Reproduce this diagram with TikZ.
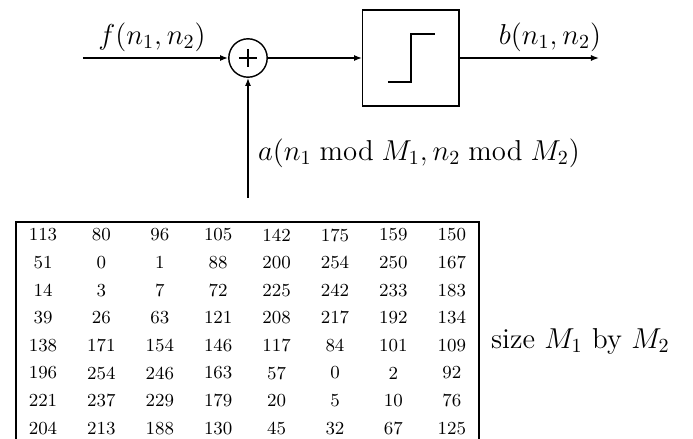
\documentclass[tikz,border=0pt]{standalone}
\usetikzlibrary{arrows.meta}
\begin{document}
\begin{tikzpicture}[x=0.5pt,y=-0.5pt,
  seta/.style={-{Latex[length=4pt,width=3pt]},line width=0.7pt},
  linha/.style={line width=0.7pt},
  rotulo/.style={font=\Large},
  celula/.style={font=\fontsize{9.2}{11}\selectfont,inner sep=0pt}]

\useasboundingbox (0,0) rectangle (693,439);

% Somador e quantizador
\node[draw,linha,circle,minimum size=19.2pt,inner sep=0pt] (soma) at (248,58) {};
\draw[linha] (soma.center) ++(-9,0) -- ++(18,0);
\draw[linha] (soma.center) ++(0,-9) -- ++(0,18);

\node[draw,linha,minimum size=48.2pt,inner sep=0pt] (quant) at (411,58) {};
\draw[linha] (quant.center) ++(-23,24) -- ++(23,0) -- ++(0,-48) -- ++(24,0);

% Entradas e saida
\coordinate (entrada) at (83,58);
\coordinate (saida) at (599,58);
\coordinate (baixo) at (248,198);

\draw[seta] (entrada) -- (soma);
\draw[seta] (soma) -- (quant);
\draw[seta] (quant) -- (saida);
\draw[seta] (baixo) -- (soma);

\node[rotulo] (rotf) at (152,37) {$f(n_1,n_2)$};
\node[rotulo] (rotb) at (550,37) {$b(n_1,n_2)$};
\node[rotulo,anchor=west] (rota) at (251,153) {$a(n_1 \bmod M_1, n_2 \bmod M_2)$};

% Tabela periodica
\draw[linha] (16,439) -- (16,222) -- (479,222) -- (479,439);
\foreach \lista [count=\r] in {
  {113,80,96,105,142,175,159,150},
  {51,0,1,88,200,254,250,167},
  {14,3,7,72,225,242,233,183},
  {39,26,63,121,208,217,192,134},
  {138,171,154,146,117,84,101,109},
  {196,254,246,163,57,0,2,92},
  {221,237,229,179,20,5,10,76},
  {204,213,188,130,45,32,67,125}} {
  \foreach \v [count=\c] in \lista {
    \node[celula] (c-\r-\c) at ({43+(\c-1)*58.4},{235+(\r-1)*27.6}) {\v};
  }
}

\node[rotulo,anchor=west] (tamanho) at (484,341) {size $M_1$ by $M_2$};

\end{tikzpicture}
\end{document}
